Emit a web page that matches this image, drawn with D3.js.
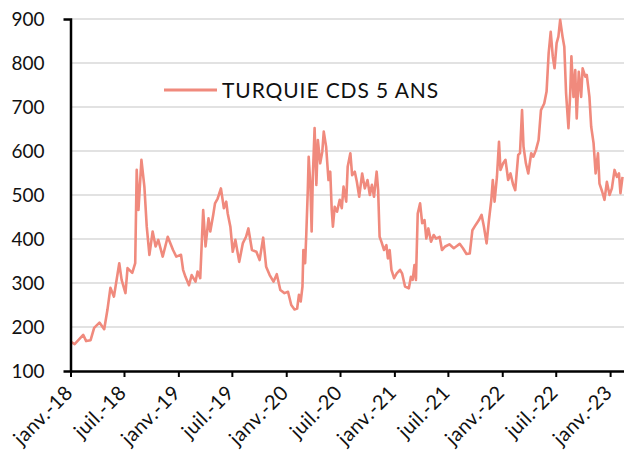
<!DOCTYPE html>
<html>
<head>
<meta charset="utf-8">
<script src="https://cdn.jsdelivr.net/npm/d3@7"></script>
<style>
  body { margin: 0; background: #fff; }
  svg text { font-family: Lato, "Open Sans", sans-serif; fill: #111; }
</style>
</head>
<body>
<div id="chart"></div>
<script>
// Turquie CDS 5 ans (pb)
var dates = [
  "2018-01-01","2018-01-15","2018-02-13","2018-02-23","2018-03-10","2018-03-22","2018-04-09","2018-04-25",
  "2018-05-06","2018-05-16","2018-05-28","2018-06-15","2018-06-23","2018-07-06","2018-07-13","2018-07-29",
  "2018-08-08","2018-08-13","2018-08-19","2018-08-29","2018-09-08","2018-09-16","2018-09-25","2018-10-06",
  "2018-10-16","2018-10-25","2018-11-09","2018-11-26","2018-12-14","2018-12-25",
  "2019-01-10","2019-01-17","2019-01-25","2019-02-06","2019-02-15","2019-02-28","2019-03-07","2019-03-16",
  "2019-03-26","2019-04-03","2019-04-13","2019-04-19","2019-04-29","2019-05-05","2019-05-14","2019-05-25",
  "2019-06-04","2019-06-12","2019-06-17","2019-06-26","2019-07-04","2019-07-13","2019-07-26","2019-08-07",
  "2019-08-18","2019-08-26","2019-09-07","2019-09-22","2019-10-03","2019-10-15","2019-10-25","2019-11-06",
  "2019-11-19","2019-11-30","2019-12-12","2019-12-26",
  "2020-01-07","2020-01-18","2020-01-29","2020-02-07","2020-02-13","2020-02-19","2020-02-25","2020-02-28",
  "2020-03-05","2020-03-09","2020-03-14","2020-03-17","2020-03-23","2020-03-27","2020-03-31","2020-04-06",
  "2020-04-12","2020-04-17","2020-04-25","2020-05-02","2020-05-07","2020-05-15","2020-05-23","2020-05-29",
  "2020-06-03","2020-06-07","2020-06-13","2020-06-21","2020-06-30","2020-07-07","2020-07-13","2020-07-22",
  "2020-07-27","2020-08-05","2020-08-11","2020-08-20","2020-08-27","2020-09-04","2020-09-14","2020-09-23",
  "2020-10-02","2020-10-10","2020-10-17","2020-10-24","2020-11-02","2020-11-07","2020-11-12","2020-11-18",
  "2020-11-27","2020-12-05","2020-12-10","2020-12-16","2020-12-22","2020-12-31",
  "2021-01-09","2021-01-20","2021-01-27","2021-02-06","2021-02-19","2021-02-26","2021-03-04","2021-03-10",
  "2021-03-15","2021-03-21","2021-03-29","2021-04-05","2021-04-13","2021-04-19","2021-04-26","2021-05-05",
  "2021-05-14","2021-05-22","2021-06-03","2021-06-11","2021-06-22","2021-07-06","2021-07-21","2021-07-29",
  "2021-08-10","2021-08-21","2021-09-02","2021-09-13","2021-09-22","2021-10-03","2021-10-14","2021-10-23",
  "2021-10-31","2021-11-09","2021-11-17","2021-11-25","2021-11-30","2021-12-06","2021-12-14","2021-12-21",
  "2021-12-26",
  "2022-01-04","2022-01-12","2022-01-21","2022-01-29","2022-02-07","2022-02-14","2022-02-24","2022-03-02",
  "2022-03-09","2022-03-14","2022-03-22","2022-03-30","2022-04-09","2022-04-16","2022-04-25","2022-05-04",
  "2022-05-12","2022-05-23","2022-05-31","2022-06-07","2022-06-14","2022-06-21","2022-06-27","2022-07-04",
  "2022-07-10","2022-07-16","2022-07-24","2022-07-30","2022-08-05","2022-08-13","2022-08-19","2022-08-23",
  "2022-08-30","2022-09-05","2022-09-10","2022-09-17","2022-09-25","2022-09-30","2022-10-09","2022-10-14",
  "2022-10-23","2022-10-29","2022-11-06","2022-11-13","2022-11-21","2022-11-26","2022-12-05","2022-12-13",
  "2022-12-21","2022-12-30",
  "2023-01-07","2023-01-16","2023-01-24","2023-01-31","2023-02-05","2023-02-12"
];
var cds5y = [
  167,161,182,168,170,198,210,195,
  239,289,269,345,307,277,334,323,
  345,557,466,580,519,428,364,417,
  383,398,360,405,375,360,
  364,330,314,295,318,303,326,311,
  466,383,447,417,455,481,492,515,
  470,485,458,428,371,398,348,390,
  405,424,375,371,352,403,337,318,
  303,320,284,277,
  280,250,240,242,273,258,292,375,
  345,413,511,587,519,417,541,652,
  523,625,572,598,644,610,534,553,
  466,428,473,462,489,470,519,485,
  564,595,545,553,530,496,549,515,
  534,500,523,496,553,511,405,394,
  375,386,356,375,330,311,
  322,330,322,292,288,314,307,341,
  307,458,481,436,443,401,424,394,
  409,401,405,375,383,388,379,383,
  389,379,366,367,420,432,443,455,
  428,390,443,489,534,485,541,621,
  557,
  572,580,534,549,523,511,591,595,
  693,610,572,549,595,587,602,625,
  693,708,735,822,871,815,788,845,
  860,898,860,837,731,652,731,815,
  723,784,674,780,723,788,769,773,
  723,655,618,549,595,526,508,489,
  530,500,
  515,557,541,549,504,541
];
var yTicks = [100, 200, 300, 400, 500, 600, 700, 800, 900];
var xTickDates = ["2018-01-01","2018-07-01","2019-01-01","2019-07-01","2020-01-01","2020-07-01",
                  "2021-01-01","2021-07-01","2022-01-01","2022-07-01","2023-01-01"];
var xTickLabels = ["janv.-18","juil.-18","janv.-19","juil.-19","janv.-20","juil.-20",
                   "janv.-21","juil.-21","janv.-22","juil.-22","janv.-23"];
var seriesName = "TURQUIE CDS 5 ANS";

var width = 624, height = 459;
var lineColor = "#f08a7d";
var parse = d3.timeParse("%Y-%m-%d");

var points = dates.map(function(d, i) { return { date: parse(d), value: cds5y[i] }; });

var svg = d3.select("#chart").append("svg")
    .attr("width", width).attr("height", height);

var x = d3.scaleTime()
    .domain([parse("2018-01-01"), parse("2023-02-17")])
    .range([70.5, 624]);
var y = d3.scaleLinear()
    .domain([100, 900])
    .range([371, 19]);

// gridlines
svg.append("g")
  .selectAll("line")
  .data(yTicks.filter(function(t) { return t > 100; }))
  .enter().append("line")
    .attr("x1", 71).attr("x2", width)
    .attr("y1", function(d) { return y(d); })
    .attr("y2", function(d) { return y(d); })
    .attr("stroke", "#d9d9d9")
    .attr("stroke-width", 1.5);

// the series
var line = d3.line()
    .x(function(d) { return x(d.date); })
    .y(function(d) { return y(d.value); });

svg.append("path")
    .datum(points)
    .attr("fill", "none")
    .attr("stroke", lineColor)
    .attr("stroke-width", 2.6)
    .attr("stroke-linejoin", "round")
    .attr("d", line);

// y axis
var yAxis = svg.append("g")
    .attr("transform", "translate(70.5,0)")
    .call(d3.axisLeft(y).tickValues(yTicks).tickSizeInner(0).tickSizeOuter(7).tickPadding(26));
yAxis.select(".domain").attr("stroke", "#000").attr("stroke-width", 2.5);
yAxis.selectAll("text").style("font-size", "19px").attr("fill", "#111");

// x axis
var xAxis = svg.append("g")
    .attr("transform", "translate(0,371)")
    .call(d3.axisBottom(x)
      .tickValues(xTickDates.map(parse))
      .tickFormat(function(d, i) { return xTickLabels[i]; })
      .tickSizeInner(6).tickSizeOuter(0));
xAxis.select(".domain").attr("stroke", "#000").attr("stroke-width", 2.5);
xAxis.selectAll(".tick line").attr("stroke", "#000").attr("stroke-width", 2);
xAxis.selectAll("text")
    .style("font-size", "20px")
    .style("letter-spacing", "0.4px")
    .attr("fill", "#111")
    .attr("text-anchor", "end")
    .attr("x", 0).attr("y", 0)
    .attr("dy", "0.35em")
    .attr("transform", "translate(-2,18) rotate(-45)");

// legend
var legend = svg.append("g").attr("transform", "translate(164,90)");
legend.append("line")
    .attr("x1", 0).attr("x2", 53)
    .attr("stroke", lineColor).attr("stroke-width", 3);
legend.append("text")
    .attr("x", 58).attr("y", 7.5)
    .style("font-size", "21px")
    .style("letter-spacing", "0.9px")
    .text(seriesName);
</script>
</body>
</html>
